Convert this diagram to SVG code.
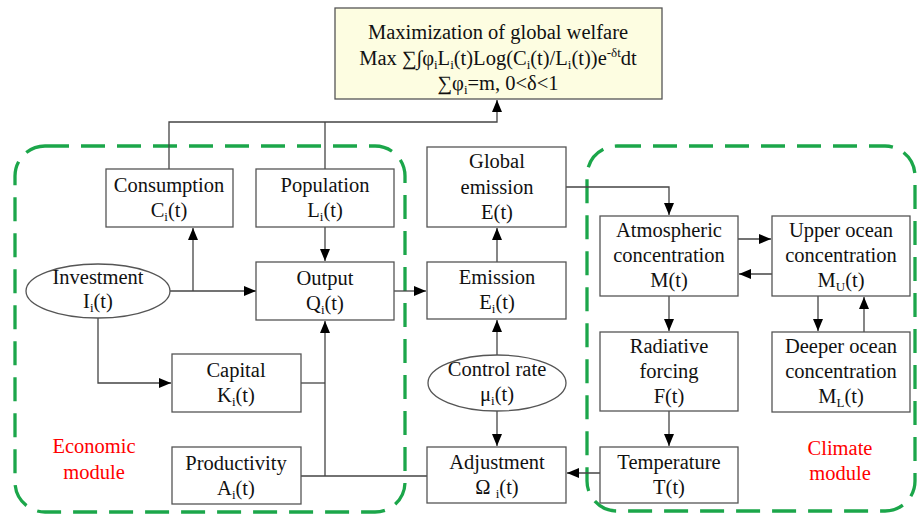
<svg xmlns="http://www.w3.org/2000/svg" width="920" height="514" viewBox="0 0 920 514">
<defs>
<marker id="ah" viewBox="0 0 12 10" refX="12" refY="5" markerWidth="12" markerHeight="10" markerUnits="userSpaceOnUse" orient="auto">
<path d="M0,0 L12,5 L0,10 Z" fill="#000"/>
</marker>
<style>
.box{fill:#fff;stroke:#555;stroke-width:1.3}
.top{fill:#fdfde1;stroke:#555;stroke-width:1.3}
.mod{fill:none;stroke:#1ba64a;stroke-width:3.3;stroke-dasharray:24 12}
.t{font-family:"Liberation Serif","Times New Roman",serif;font-size:20.5px;fill:#111;text-anchor:middle}
.r{fill:#f00}
.s{font-size:13px}
.c{fill:none;stroke:#444;stroke-width:1.3}
.a{marker-end:url(#ah)}
</style>
</defs>
<rect class="mod" x="15" y="146" width="390" height="366" rx="30"/>
<rect class="mod" x="587" y="146" width="328" height="365" rx="30"/>
<g id="connectors">
<path class="c a" d="M169,169 V122 H497 V100"/>
<path class="c" d="M325,169 V122"/>
<path class="c a" d="M325,227 V261"/>
<path class="c a" d="M170,291 H256"/>
<path class="c a" d="M193,291 V228"/>
<path class="c a" d="M98,318 V383 H171"/>
<path class="c" d="M301,383 H325"/>
<path class="c a" d="M301,476 H427 M325,476 V321"/>
<path class="c a" d="M394,291 H426"/>
<path class="c a" d="M497,262 V228"/>
<path class="c a" d="M497,355 V320"/>
<path class="c a" d="M497,411 V446"/>
<path class="c a" d="M600,473 H567"/>
<path class="c a" d="M566,187 H669 V215"/>
<path class="c a" d="M738,239 H771"/>
<path class="c a" d="M772,274 H739"/>
<path class="c a" d="M669,296 V331"/>
<path class="c a" d="M818,296 V331"/>
<path class="c a" d="M864,332 V297"/>
<path class="c a" d="M669,411 V446"/>
</g>
<g id="welfare">
<rect class="top" x="335" y="8" width="327" height="91"/>
<text class="t" x="498" y="39">Maximization of global welfare</text>
<text class="t" x="498" y="65">Max ∑∫φ<tspan class="s" dy="4">i</tspan><tspan dy="-4">L</tspan><tspan class="s" dy="4">i</tspan><tspan dy="-4">(t)Log(C</tspan><tspan class="s" dy="4">i</tspan><tspan dy="-4">(t)/L</tspan><tspan class="s" dy="4">i</tspan><tspan dy="-4">(t))e</tspan><tspan class="s" dy="-8">-δt</tspan><tspan dy="8">dt</tspan></text>
<text class="t" x="498" y="90">∑φ<tspan class="s" dy="4">i</tspan><tspan dy="-4">=m, 0&lt;δ&lt;1</tspan></text>
</g>
<g id="consumption">
<rect class="box" x="106" y="169" width="127" height="58"/>
<text class="t" x="169" y="192">Consumption</text>
<text class="t" x="169" y="217">C<tspan class="s" dy="4">i</tspan><tspan dy="-4">(t)</tspan></text>
</g>
<g id="population">
<rect class="box" x="256" y="169" width="138" height="58"/>
<text class="t" x="325" y="192">Population</text>
<text class="t" x="325" y="217">L<tspan class="s" dy="4">i</tspan><tspan dy="-4">(t)</tspan></text>
</g>
<g id="investment">
<ellipse class="box" cx="98" cy="291" rx="72" ry="27"/>
<text class="t" x="98" y="284">Investment</text>
<text class="t" x="98" y="308">I<tspan class="s" dy="4">i</tspan><tspan dy="-4">(t)</tspan></text>
</g>
<g id="output">
<rect class="box" x="256" y="262" width="138" height="58"/>
<text class="t" x="325" y="285">Output</text>
<text class="t" x="325" y="310">Q<tspan class="s" dy="4">i</tspan><tspan dy="-4">(t)</tspan></text>
</g>
<g id="capital">
<rect class="box" x="172" y="354" width="129" height="58"/>
<text class="t" x="236" y="377">Capital</text>
<text class="t" x="236" y="402">K<tspan class="s" dy="4">i</tspan><tspan dy="-4">(t)</tspan></text>
</g>
<g id="productivity">
<rect class="box" x="172" y="447" width="129" height="57"/>
<text class="t" x="236" y="470">Productivity</text>
<text class="t" x="236" y="495">A<tspan class="s" dy="4">i</tspan><tspan dy="-4">(t)</tspan></text>
</g>
<g id="economic-label">
<text class="t r" x="94" y="453">Economic</text>
<text class="t r" x="94" y="479">module</text>
</g>
<g id="global-emission">
<rect class="box" x="427" y="147" width="139" height="80"/>
<text class="t" x="497" y="168">Global</text>
<text class="t" x="497" y="194">emission</text>
<text class="t" x="497" y="219">E(t)</text>
</g>
<g id="emission">
<rect class="box" x="427" y="262" width="139" height="57"/>
<text class="t" x="497" y="284">Emission</text>
<text class="t" x="497" y="309">E<tspan class="s" dy="4">i</tspan><tspan dy="-4">(t)</tspan></text>
</g>
<g id="control-rate">
<ellipse class="box" cx="497" cy="383" rx="69" ry="28"/>
<text class="t" x="497" y="376">Control rate</text>
<text class="t" x="497" y="401">μ<tspan class="s" dy="4">i</tspan><tspan dy="-4">(t)</tspan></text>
</g>
<g id="adjustment">
<rect class="box" x="427" y="447" width="139" height="56"/>
<text class="t" x="497" y="469">Adjustment</text>
<text class="t" x="497" y="494">Ω <tspan class="s" dy="4">i</tspan><tspan dy="-4">(t)</tspan></text>
</g>
<g id="atmospheric">
<rect class="box" x="600" y="216" width="138" height="80"/>
<text class="t" x="669" y="237">Atmospheric</text>
<text class="t" x="669" y="262">concentration</text>
<text class="t" x="669" y="287">M(t)</text>
</g>
<g id="upper-ocean">
<rect class="box" x="772" y="216" width="138" height="80"/>
<text class="t" x="841" y="237">Upper ocean</text>
<text class="t" x="841" y="262">concentration</text>
<text class="t" x="841" y="287">M<tspan class="s" dy="4">U</tspan><tspan dy="-4">(t)</tspan></text>
</g>
<g id="radiative">
<rect class="box" x="600" y="332" width="138" height="79"/>
<text class="t" x="669" y="353">Radiative</text>
<text class="t" x="669" y="378">forcing</text>
<text class="t" x="669" y="403">F(t)</text>
</g>
<g id="deeper-ocean">
<rect class="box" x="772" y="332" width="138" height="80"/>
<text class="t" x="841" y="353">Deeper ocean</text>
<text class="t" x="841" y="378">concentration</text>
<text class="t" x="841" y="403">M<tspan class="s" dy="4">L</tspan><tspan dy="-4">(t)</tspan></text>
</g>
<g id="temperature">
<rect class="box" x="600" y="447" width="138" height="56"/>
<text class="t" x="669" y="469">Temperature</text>
<text class="t" x="669" y="494">T(t)</text>
</g>
<g id="climate-label">
<text class="t r" x="840" y="455">Climate</text>
<text class="t r" x="840" y="480">module</text>
</g>
</svg>
